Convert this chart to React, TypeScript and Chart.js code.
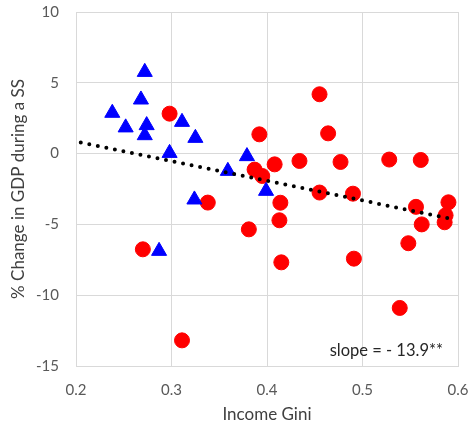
import React, { useEffect, useRef } from "react";
import { Chart, registerables } from "chart.js";

Chart.register(...registerables);

const blueX = [0.238, 0.252, 0.268, 0.272, 0.274, 0.272, 0.298, 0.311, 0.325, 0.324, 0.287, 0.359, 0.379, 0.399];
const blueY = [2.87, 1.84, 3.81, 5.76, 2.0, 1.29, 0.04, 2.23, 1.1, -3.25, -6.88, -1.23, -0.19, -2.64];

const redX = [0.298, 0.27, 0.311, 0.338, 0.381, 0.392, 0.387, 0.395, 0.408, 0.414, 0.413, 0.415, 0.434, 0.455, 0.464, 0.477, 0.455, 0.49, 0.491, 0.528, 0.561, 0.556, 0.562, 0.548, 0.539, 0.59, 0.587, 0.586];
const redY = [2.82, -6.76, -13.19, -3.46, -5.35, 1.36, -1.13, -1.58, -0.76, -3.47, -4.71, -7.68, -0.52, 4.19, 1.43, -0.59, -2.75, -2.83, -7.42, -0.42, -0.45, -3.76, -5.0, -6.33, -10.9, -3.44, -4.36, -4.85];

const trendX = [0.205, 0.593];
const trendY = [0.78, -4.6];

const xTitle = "Income Gini";
const yTitle = "% Change in GDP during a SS";
const slopeLabel = "slope = - 13.9**";

const FONT = "Lato, 'Open Sans', sans-serif";

export default function App() {
  const ref = useRef<HTMLCanvasElement | null>(null);

  useEffect(() => {
    if (!ref.current) return;
    const slopePlugin = {
      id: "slopeText",
      afterDatasetsDraw(chart: any) {
        const { ctx, chartArea } = chart;
        ctx.save();
        ctx.font = `16.5px ${FONT}`;
        ctx.fillStyle = "#262626";
        ctx.textAlign = "right";
        ctx.textBaseline = "alphabetic";
        ctx.fillText(slopeLabel, chartArea.right - 15, chartArea.bottom - 10);
        ctx.restore();
      },
    };
    const chart = new Chart(ref.current, {
      type: "scatter",
      data: {
        datasets: [
          {
            type: "line",
            data: trendX.map((x, i) => ({ x, y: trendY[i] })),
            borderColor: "#000000",
            borderWidth: 4,
            borderDash: [0, 8.7],
            borderCapStyle: "round",
            pointRadius: 0,
            fill: false,
          } as any,
          {
            data: blueX.map((x, i) => ({ x, y: blueY[i] })),
            pointStyle: "triangle",
            pointRadius: 8.7,
            backgroundColor: "#0000FF",
            borderColor: "#0000FF",
            borderWidth: 1,
          },
          {
            data: redX.map((x, i) => ({ x, y: redY[i] })),
            pointStyle: "circle",
            pointRadius: 7.5,
            backgroundColor: "#FF0000",
            borderColor: "#FF0000",
            borderWidth: 1,
          },
        ],
      },
      options: {
        animation: false,
        responsive: false,
        layout: { padding: { top: 12, right: 13, left: 0, bottom: 0 } },
        plugins: { legend: { display: false }, tooltip: { enabled: false } },
        scales: {
          x: {
            type: "linear",
            min: 0.2,
            max: 0.6,
            afterFit: (s: any) => {
              s.height = 57;
              s.paddingLeft = 0;
              s.paddingRight = 0;
            },
            ticks: {
              stepSize: 0.1,
              callback: (v: any) => Number(v).toFixed(1),
              color: "#595959",
              font: { family: FONT, size: 15 },
              padding: 15,
            },
            grid: { color: "#D9D9D9", drawTicks: false, lineWidth: 1 },
            border: { color: "#D9D9D9" },
            title: {
              display: true,
              text: xTitle,
              color: "#404040",
              font: { family: FONT, size: 17 },
              padding: { top: 0, bottom: -2 },
            },
          },
          y: {
            type: "linear",
            min: -15,
            max: 10,
            afterFit: (s: any) => {
              s.width = 76;
              s.paddingTop = 0;
              s.paddingBottom = 0;
            },
            ticks: {
              stepSize: 5,
              color: "#595959",
              font: { family: FONT, size: 15 },
              padding: 17,
            },
            grid: { color: "#D9D9D9", drawTicks: false, lineWidth: 1 },
            border: { color: "#D9D9D9" },
            title: {
              display: true,
              text: yTitle,
              color: "#404040",
              font: { family: FONT, size: 17 },
              padding: { top: 8, bottom: 0 },
            },
          },
        },
      },
      plugins: [slopePlugin],
    } as any);
    return () => chart.destroy();
  }, []);

  return (
    <div style={{ position: "absolute", left: 0, top: 0, width: 471, height: 423, background: "#fff" }}>
      <canvas ref={ref} width={471} height={423} style={{ width: 471, height: 423, display: "block" }} />
    </div>
  );
}
